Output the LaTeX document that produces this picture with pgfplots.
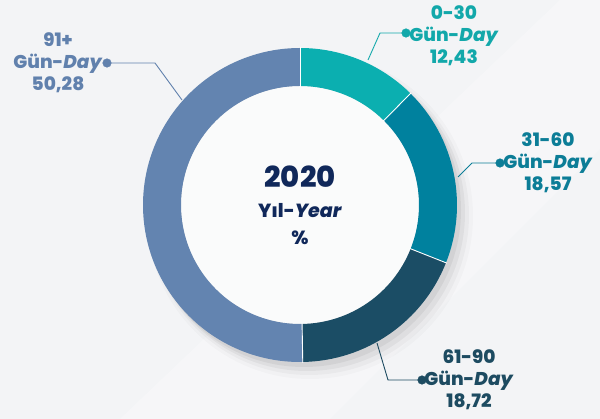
\documentclass[border=0pt]{standalone}
\usepackage{pgfplots}
\pgfplotsset{compat=1.18}
\usepackage{pgfplotstable}
\usepackage{fontspec}
\setmainfont{Poppins}[BoldFont={Poppins ExtraBold},BoldItalicFont={Poppins ExtraBold Italic}]
\definecolor{cA}{HTML}{0BAFB0}
\definecolor{cB}{HTML}{00819E}
\definecolor{cC}{HTML}{1B4D65}
\definecolor{cD}{HTML}{6384B0}
\definecolor{tA}{HTML}{12A8AA}
\definecolor{tB}{HTML}{0C7D97}
\definecolor{tC}{HTML}{1D4B61}
\definecolor{tD}{HTML}{6181AD}
\definecolor{navy}{HTML}{10285A}
\definecolor{bg}{HTML}{F3F4F6}
\pgfplotstableread{
label value
0-30 12.43
31-60 18.57
61-90 18.72
91+ 50.28
}\shares
\pgfplotstablegetelem{0}{value}\of\shares\let\vA\pgfplotsretval
\pgfplotstablegetelem{1}{value}\of\shares\let\vB\pgfplotsretval
\pgfplotstablegetelem{2}{value}\of\shares\let\vC\pgfplotsretval
\pgfplotstablegetelem{3}{value}\of\shares\let\vD\pgfplotsretval
\pgfmathsetmacro\aA{90}
\pgfmathsetmacro\aB{\aA-3.6*\vA}
\pgfmathsetmacro\aC{\aB-3.6*\vB}
\pgfmathsetmacro\aD{\aC-3.6*\vC}
\pgfmathsetmacro\aE{\aD-3.6*\vD}
\newcommand\seg[3]{%
  \fill[#3] (axis cs:300,214) ++(#1:157pt) arc[start angle=#1,end angle=#2,radius=157pt]
    -- ++(#2+180:38pt) arc[start angle=#2,end angle=#1,radius=119pt] -- cycle;}
\newcommand\sep[1]{\draw[white,line width=0.9pt] (axis cs:300,214) ++(#1:118pt) -- ++(#1:40pt);}
\begin{document}
\begin{tikzpicture}
\begin{axis}[width=600pt,height=419pt,scale only axis,xmin=0,xmax=600,ymin=0,ymax=419,
  axis lines=none,clip=false]
\fill[bg] (axis cs:0,0) rectangle (axis cs:600,419);
\fill[white,opacity=0.25] (axis cs:120,0) -- (axis cs:330,0) -- (axis cs:600,270) -- (axis cs:600,419) -- (axis cs:560,419) -- cycle;
\fill[black,opacity=0.02] (axis cs:310,203) circle[radius=163pt];
\fill[black,opacity=0.03] (axis cs:309,204) circle[radius=160pt];
\fill[black,opacity=0.045] (axis cs:307,206) circle[radius=158pt];
\fill[black,opacity=0.05] (axis cs:304,209) circle[radius=157pt];
\fill[white!60!bg] (axis cs:300,214) circle[radius=119pt];
\seg{\aA}{\aB}{cA}
\seg{\aB}{\aC}{cB}
\seg{\aC}{\aD}{cC}
\seg{\aD}{\aE}{cD}
\sep{\aA}\sep{\aB}\sep{\aC}\sep{\aD}
% leader lines
\addplot[tA,line width=0.9pt] coordinates {(368,359) (380,386) (406,386)};
\addplot[tA,only marks,mark=*,mark size=4.3pt] coordinates {(406,386)};
\addplot[tB,line width=0.9pt] coordinates {(458,242) (472,256) (500,256)};
\addplot[tB,only marks,mark=*,mark size=4.3pt] coordinates {(500,256)};
\addplot[tC,line width=0.9pt] coordinates {(377,76) (388,39) (422,39)};
\addplot[tC,only marks,mark=*,mark size=4.3pt] coordinates {(422,39)};
\addplot[tD,line width=0.9pt] coordinates {(182,319) (155,356) (107,356)};
\addplot[tD,only marks,mark=*,mark size=4.3pt] coordinates {(107,356)};
% labels
\node[tA,align=center,font=\fontsize{18.5}{22}\selectfont\bfseries] at (axis cs:454,383) {0-30\\Gün-\textit{Day}\\12,43};
\node[tB,align=center,font=\fontsize{18.5}{22}\selectfont\bfseries] at (axis cs:548,256) {31-60\\Gün-\textit{Day}\\18,57};
\node[tC,align=center,font=\fontsize{18.5}{22}\selectfont\bfseries] at (axis cs:469,39) {61-90\\Gün-\textit{Day}\\18,72};
\node[tD,align=center,font=\fontsize{18.5}{22}\selectfont\bfseries] at (axis cs:58,356) {91+\\Gün-\textit{Day}\\50,28};
\node[navy,font=\fontsize{29}{32}\selectfont\bfseries] at (axis cs:300,242) {2020};
\node[navy,align=center,font=\fontsize{19}{27}\selectfont\bfseries] at (axis cs:300,195) {Yıl-\textit{Year}\\\%};
\end{axis}
\end{tikzpicture}
\end{document}
